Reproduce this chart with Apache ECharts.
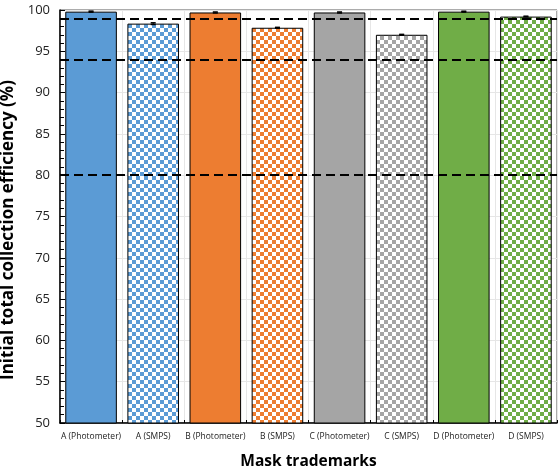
<!DOCTYPE html>
<html><head><meta charset="utf-8">
<script src="https://cdn.jsdelivr.net/npm/echarts@6/dist/echarts.min.js"></script>
<style>html,body{margin:0;padding:0;background:#fff}#c{width:560px;height:470px}</style>
</head><body><div id="c"></div>
<script>
var categories = ['A (Photometer)','A (SMPS)','B (Photometer)','B (SMPS)','C (Photometer)','C (SMPS)','D (Photometer)','D (SMPS)'];
var efficiency = [99.8, 98.35, 99.7, 97.85, 99.7, 97.0, 99.8, 99.2];
var errors = [0.06, 0.1, 0.06, 0.05, 0.06, 0.05, 0.05, 0.05];
var thresholds = [99, 94, 80];
var yTicks = [50, 100, 5];

var baseColors = ['#5B9BD5','#5B9BD5','#ED7D31','#ED7D31','#A5A5A5','#A5A5A5','#70AD47','#70AD47'];
var patterned = [false,true,false,true,false,true,false,true];

function checker(col){
  var c = document.createElement('canvas'); c.width = 8; c.height = 8;
  var g = c.getContext('2d');
  g.fillStyle = '#fff'; g.fillRect(0,0,8,8);
  g.fillStyle = col; g.fillRect(0,0,4,4); g.fillRect(4,4,4,4);
  return {image: c, repeat: 'repeat'};
}

var barData = efficiency.map(function(v,i){
  return {value: v, itemStyle: {color: patterned[i] ? checker(baseColors[i]) : baseColors[i], borderColor: '#000', borderWidth: 1}};
});
var errData = efficiency.map(function(v,i){ return [i, v - errors[i], v + errors[i]]; });

var chart = echarts.init(document.getElementById('c'), null, {renderer: 'canvas'});
chart.setOption({
  animation: false,
  backgroundColor: '#fff',
  grid: {left: 60, right: 3, top: 10, bottom: 47, outerBoundsMode: 'none', containLabel: false, show: true, borderColor: '#595959', borderWidth: 1},
  xAxis: {
    type: 'category', data: categories,
    name: 'Mask trademarks', nameLocation: 'middle', nameGap: 31,
    nameTextStyle: {fontFamily: 'Open Sans', fontWeight: 'bold', fontSize: 15.5, color: '#000'},
    axisLine: {lineStyle: {color: '#000', width: 1.5}},
    axisTick: {show: true, inside: true, length: 3, lineStyle: {color: '#000'}},
    axisLabel: {fontFamily: 'Open Sans', fontSize: 8.5, color: '#222', margin: 9, interval: 0},
    splitLine: {show: true, lineStyle: {color: '#e6e6e6', width: 1}}
  },
  yAxis: {
    type: 'value', min: yTicks[0], max: yTicks[1], interval: yTicks[2],
    name: 'Initial total collection efficiency (%)', nameLocation: 'middle', nameGap: 37,
    nameTextStyle: {fontFamily: 'Open Sans', fontWeight: 'bold', fontSize: 17, color: '#000', padding: [0, 27, 0, 0]},
    axisLine: {show: true, lineStyle: {color: '#000', width: 1.5}},
    axisTick: {show: true, inside: true, length: 5, lineStyle: {color: '#000'}},
    minorTick: {show: true, splitNumber: 5, length: 4, lineStyle: {color: '#000'}},
    axisLabel: {fontFamily: 'Open Sans', fontSize: 13, color: '#222', margin: 10},
    splitLine: {show: true, lineStyle: {color: '#e6e6e6', width: 1}}
  },
  series: [
    {
      type: 'bar', data: barData, barWidth: '83%',
      markLine: {
        silent: true, symbol: 'none', label: {show: false},
        lineStyle: {color: '#000', type: [9, 5], width: 2},
        data: thresholds.map(function(t){ return {yAxis: t}; })
      },
      z: 2
    },
    {
      type: 'custom', data: errData, z: 5,
      renderItem: function(params, api){
        var x = api.value(0), lo = api.coord([x, api.value(1)]), hi = api.coord([x, api.value(2)]);
        var w = 2.5;
        return {type: 'group', children: [
          {type: 'line', shape: {x1: lo[0], y1: lo[1], x2: hi[0], y2: hi[1]}, style: {stroke: '#000', lineWidth: 1}},
          {type: 'line', shape: {x1: lo[0]-w, y1: lo[1], x2: lo[0]+w, y2: lo[1]}, style: {stroke: '#000', lineWidth: 1.5}},
          {type: 'line', shape: {x1: hi[0]-w, y1: hi[1], x2: hi[0]+w, y2: hi[1]}, style: {stroke: '#000', lineWidth: 1.5}}
        ]};
      }
    }
  ]
});
</script></body></html>
